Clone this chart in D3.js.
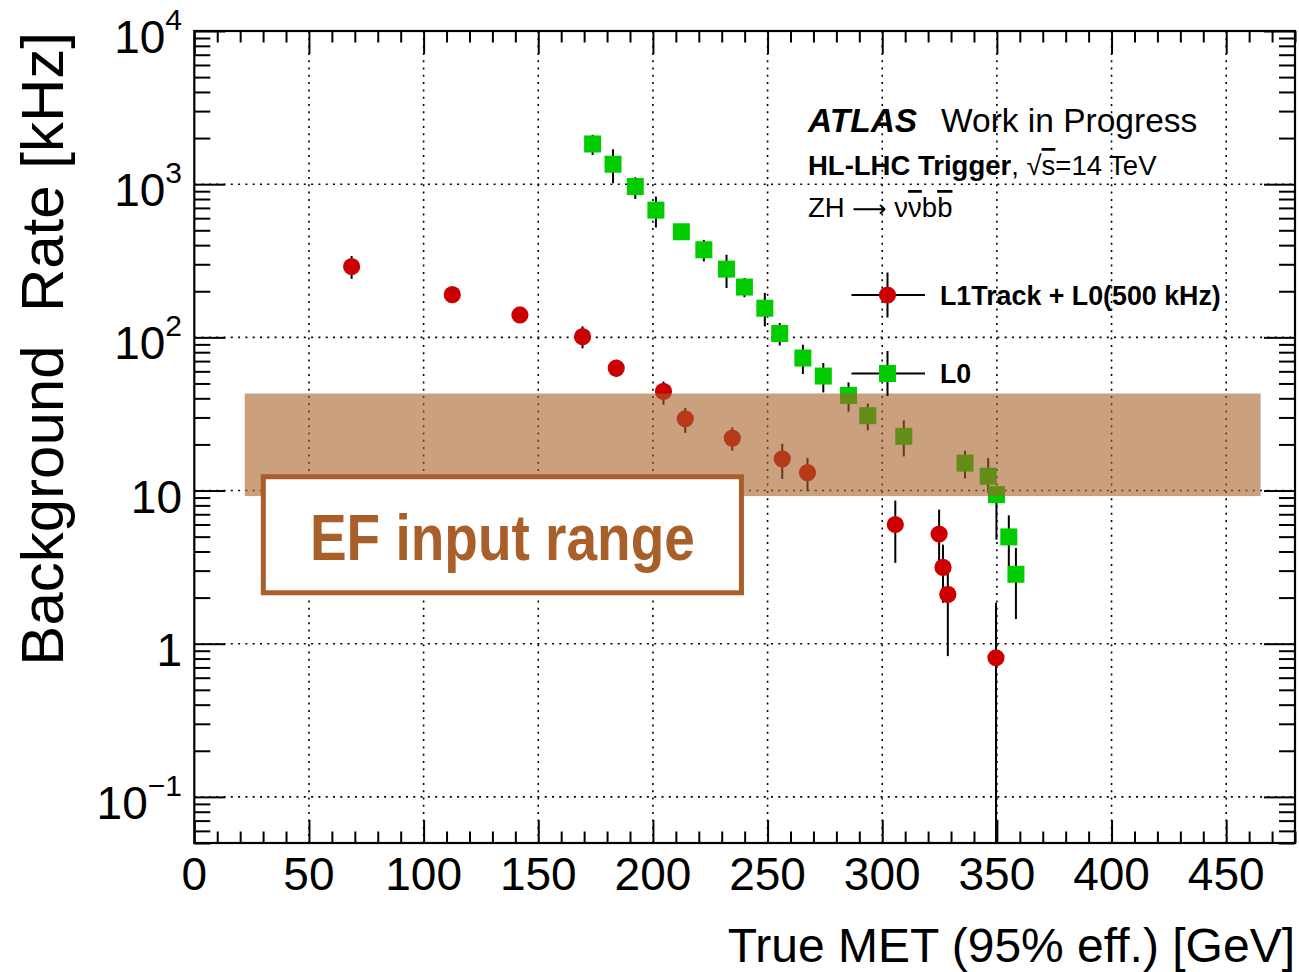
<!DOCTYPE html>
<html>
<head>
<meta charset="utf-8">
<script src="https://cdn.jsdelivr.net/npm/d3@7"></script>
<style>
  html, body { margin: 0; padding: 0; background: #fff; }
  svg { display: block; }
  text { font-family: "Liberation Sans", Arial, Helvetica, sans-serif; }
</style>
</head>
<body>
<svg id="chart" width="1299" height="972"></svg>
<script>
// ---------------- data ----------------
const l1trackX      = [68.6, 112.5, 142.0, 169.3, 184.0, 204.6, 214.1, 234.6, 256.4, 267.4, 305.7, 324.8, 326.5, 328.6, 349.6];
const l1trackRate   = [290, 190, 140, 101, 63, 44.4, 29.4, 22.0, 16.1, 13.1, 6.0, 5.2, 3.15, 2.1, 0.81];
const l1trackUpper  = [340, 198, 156, 118, 71.4, 51.5, 34.6, 25.8, 20.2, 16.3, 8.6, 7.5, 4.43, 3.37, 1.85];
const l1trackLower  = [241, 182, 124, 84.7, 55.1, 36.3, 23.8, 18.2, 11.9, 9.9, 3.37, 2.87, 1.85, 0.83, 0];

const l0X     = [173.7, 182.6, 192.3, 201.3, 212.4, 222.2, 232.1, 239.9, 248.8, 255.3, 265.4, 274.3, 285.3, 293.7, 309.4, 336.1, 346.2, 349.8, 355.2, 358.3];
const l0Rate  = [1830, 1350, 965, 677, 489, 373, 279, 213, 155, 106, 73.3, 55.9, 41.8, 30.8, 22.6, 15.1, 12.4, 9.4, 4.98, 2.84];
const l0Upper = [2100, 1690, 1110, 830, 510, 433, 346, 244, 195, 124, 89.5, 68, 50.8, 36.9, 28.7, 18.2, 16.3, 10.6, 6.89, 4.22];
const l0Lower = [1550, 1015, 802, 521, 470, 313, 210, 183, 118, 88.5, 57.6, 43.7, 32.7, 24.7, 16.7, 12.0, 9.64, 4.78, 3.2, 1.45];

const xTickValues = [0, 50, 100, 150, 200, 250, 300, 350, 400, 450];
const yTickExponents = [-1, 0, 1, 2, 3, 4];
const yTickLabels = [["10", "\u22121"], ["1", ""], ["10", ""], ["10", "2"], ["10", "3"], ["10", "4"]];

const seriesNames = ["L1Track + L0(500 kHz)", "L0"];
const xTitle = "True MET (95% eff.) [GeV]";
const yTitle = "Background  Rate [kHz]";

const efBandX = [22, 465];
const efBandY = [9.2, 43];
const efBoxX = [30.1, 238.6];
const efBoxY = [2.15, 12.3];
const efLabel = "EF input range";

// ---------------- layout ----------------
const W = 1299, H = 972;
const L = 194.3, R = 1295, T = 31, B = 843;
const xDomain = [0, 480], yDomain = [0.05, 10000];

const svg = d3.select("#chart");
svg.append("rect").attr("width", W).attr("height", H).attr("fill", "#fff");

const x = d3.scaleLinear().domain(xDomain).range([L, R]);
const y = d3.scaleLog().domain(yDomain).range([B, T]);

const brown = "#a6602a";
const red = "#cc0000", green = "#00cc00";

// ---------------- grid ----------------
const grid = svg.append("g").attr("stroke", "#000").attr("stroke-width", 1.6).attr("stroke-dasharray", "2,5.3");
grid.selectAll("line.gx").data(xTickValues.filter(v => v > 0)).join("line")
  .attr("x1", d => x(d)).attr("x2", d => x(d)).attr("y1", T).attr("y2", B);
grid.selectAll("line.gy").data(yTickExponents.map(e => Math.pow(10, e)).filter(v => v < 1e4)).join("line")
  .attr("y1", d => y(d)).attr("y2", d => y(d)).attr("x1", L).attr("x2", R);

// ---------------- data marks ----------------
const yc = v => y(Math.max(v, yDomain[0]));
const l1 = l1trackX.map((v, i) => ({x: v, y: l1trackRate[i], hi: l1trackUpper[i], lo: l1trackLower[i]}));
const l0 = l0X.map((v, i) => ({x: v, y: l0Rate[i], hi: l0Upper[i], lo: l0Lower[i]}));

const marks = svg.append("g");
marks.selectAll("line.e1").data(l1).join("line")
  .attr("x1", d => x(d.x)).attr("x2", d => x(d.x)).attr("y1", d => yc(d.hi)).attr("y2", d => yc(d.lo))
  .attr("stroke", "#000").attr("stroke-width", 2);
marks.selectAll("line.e0").data(l0).join("line")
  .attr("x1", d => x(d.x)).attr("x2", d => x(d.x)).attr("y1", d => yc(d.hi)).attr("y2", d => yc(d.lo))
  .attr("stroke", "#000").attr("stroke-width", 2);
marks.selectAll("circle").data(l1).join("circle")
  .attr("cx", d => x(d.x)).attr("cy", d => y(d.y)).attr("r", 8.6).attr("fill", red);
marks.selectAll("rect").data(l0).join("rect")
  .attr("x", d => x(d.x) - 8.5).attr("y", d => y(d.y) - 8.5).attr("width", 17).attr("height", 17).attr("fill", green);

// ---------------- EF band & box ----------------
svg.append("rect")
  .attr("x", x(efBandX[0])).attr("width", x(efBandX[1]) - x(efBandX[0]))
  .attr("y", y(efBandY[1])).attr("height", y(efBandY[0]) - y(efBandY[1]))
  .attr("fill", brown).attr("fill-opacity", 0.6);

svg.append("rect")
  .attr("x", x(efBoxX[0])).attr("width", x(efBoxX[1]) - x(efBoxX[0]))
  .attr("y", y(efBoxY[1])).attr("height", y(efBoxY[0]) - y(efBoxY[1]))
  .attr("fill", "#fff").attr("stroke", "#a85f2a").attr("stroke-width", 5);

svg.append("text")
  .attr("x", (x(efBoxX[0]) + x(efBoxX[1])) / 2).attr("y", 560)
  .attr("text-anchor", "middle")
  .attr("font-family", "Roboto, 'DejaVu Sans Condensed', sans-serif")
  .attr("font-weight", 700).attr("font-size", 65)
  .attr("textLength", 385).attr("lengthAdjust", "spacingAndGlyphs")
  .attr("fill", "#a85f2a").text(efLabel);

// ---------------- legend ----------------
const leg = svg.append("g");
const legY = [295, 373.5];
legY.forEach((ly, i) => {
  leg.append("line").attr("x1", 851.5).attr("x2", 925).attr("y1", ly).attr("y2", ly).attr("stroke", "#000").attr("stroke-width", 2);
  leg.append("line").attr("x1", 887.5).attr("x2", 887.5).attr("y1", ly - 22.5).attr("y2", ly + 22.5).attr("stroke", "#000").attr("stroke-width", 2);
  if (i === 0) leg.append("circle").attr("cx", 887.5).attr("cy", ly).attr("r", 8.6).attr("fill", red);
  else leg.append("rect").attr("x", 879).attr("y", ly - 8.5).attr("width", 17).attr("height", 17).attr("fill", green);
  leg.append("text").attr("x", 940).attr("y", ly + 9.5).attr("font-weight", "bold").attr("font-size", 26.8).text(seriesNames[i]);
});

// ---------------- header labels ----------------
const h1 = svg.append("text").attr("x", 808).attr("y", 132).attr("font-size", 33.5);
h1.append("tspan").attr("font-weight", "bold").attr("font-style", "italic").text("ATLAS");
h1.append("tspan").attr("x", 941).text("Work in Progress");

const h2 = svg.append("text").attr("x", 808).attr("y", 175).attr("font-size", 27.5);
h2.append("tspan").attr("font-weight", "bold").text("HL-LHC Trigger");
h2.append("tspan").text(", \u221A");
h2.append("tspan").attr("text-decoration", "overline").text("s");
h2.append("tspan").text("=14 TeV");

const h3 = svg.append("text").attr("x", 808).attr("y", 217).attr("font-size", 27.5);
h3.append("tspan").text("ZH ");
h3.append("tspan").attr("font-family", "'DejaVu Sans', sans-serif").attr("font-size", 24).text("\u27F6");
h3.append("tspan").text(" \u03BD");
h3.append("tspan").attr("text-decoration", "overline").text("\u03BD");
h3.append("tspan").text("b");
h3.append("tspan").attr("text-decoration", "overline").text("b");

// ---------------- axes (ticks) ----------------
const xMinor = d3.range(0, 481, 10).filter(v => v % 50 !== 0);
const yMinor = [];
for (let e = -2; e <= 3; e++) for (let m = 2; m <= 9; m++) {
  const v = m * Math.pow(10, e);
  if (v >= yDomain[0] && v <= yDomain[1]) yMinor.push(v);
}
const yMajor = yTickExponents.map(e => Math.pow(10, e));

function axisG(tr, axis) {
  const g = svg.append("g").attr("transform", tr).call(axis);
  g.select(".domain").remove();
  g.selectAll("line").attr("stroke", "#000").attr("stroke-width", 2);
  g.selectAll("text").remove();
  return g;
}
axisG(`translate(0,${B})`, d3.axisTop(x).tickValues(xTickValues).tickSize(23).tickSizeOuter(0));
axisG(`translate(0,${B})`, d3.axisTop(x).tickValues(xMinor).tickSize(11.5).tickSizeOuter(0));
axisG(`translate(0,${T})`, d3.axisBottom(x).tickValues(xTickValues).tickSize(23).tickSizeOuter(0));
axisG(`translate(0,${T})`, d3.axisBottom(x).tickValues(xMinor).tickSize(11.5).tickSizeOuter(0));
axisG(`translate(${L},0)`, d3.axisRight(y).tickValues(yMajor).tickSize(31).tickSizeOuter(0));
axisG(`translate(${L},0)`, d3.axisRight(y).tickValues(yMinor).tickSize(16).tickSizeOuter(0));
axisG(`translate(${R},0)`, d3.axisLeft(y).tickValues(yMajor).tickSize(31).tickSizeOuter(0));
axisG(`translate(${R},0)`, d3.axisLeft(y).tickValues(yMinor).tickSize(16).tickSizeOuter(0));

// frame
svg.append("rect").attr("x", L).attr("y", T).attr("width", R - L).attr("height", B - T)
  .attr("fill", "none").attr("stroke", "#000").attr("stroke-width", 2.2);

// ---------------- tick labels ----------------
svg.append("g").selectAll("text").data(xTickValues).join("text")
  .attr("x", d => x(d)).attr("y", 890).attr("text-anchor", "middle").attr("font-size", 46)
  .text(d => d);

const yl = svg.append("g").selectAll("text").data(yTickExponents).join("text")
  .attr("x", 182).attr("y", d => y(Math.pow(10, d)) + 22).attr("text-anchor", "end").attr("font-size", 46);
yl.each(function(d, i) {
  const t = d3.select(this);
  t.append("tspan").text(yTickLabels[i][0]);
  if (yTickLabels[i][1]) t.append("tspan").attr("font-size", 30).attr("dy", -23).text(yTickLabels[i][1]);
});

// ---------------- axis titles ----------------
svg.append("text").attr("x", 1295).attr("y", 962).attr("text-anchor", "end").attr("font-size", 48).text(xTitle);
svg.append("text").attr("transform", `translate(63,32) rotate(-90)`).attr("text-anchor", "end")
  .attr("font-size", 60).attr("xml:space", "preserve").style("white-space", "pre").text(yTitle);
</script>
</body>
</html>
